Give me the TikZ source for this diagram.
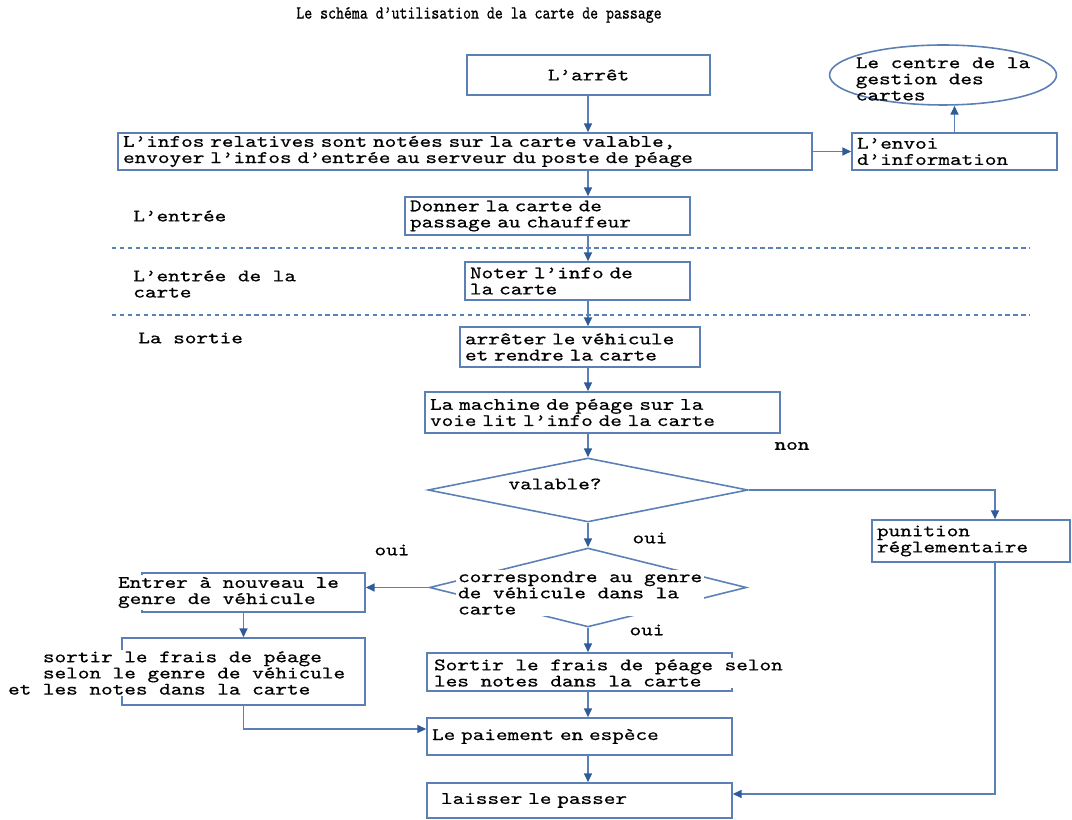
\documentclass[tikz,border=0pt]{standalone}
\usepackage{fontspec}
\usepackage{tikz}
\usetikzlibrary{arrows.meta,positioning,calc,shapes.geometric}
\newfontfamily\flowfont{lmmono10-regular}[Extension=.otf,FakeStretch=1.26,FakeBold=0.6]
\newfontfamily\headfont{lmmono10-regular}[Extension=.otf,FakeStretch=0.82,FakeBold=0.6]
\newcommand{\flowtext}{\flowfont\fontsize{10pt}{9.2pt}\selectfont}
\definecolor{flowblue}{HTML}{5B80B6}
\definecolor{tipblue}{HTML}{2E5C98}

\begin{document}
\begin{tikzpicture}[x=0.02cm,y=-0.02cm,
    stepbox/.style={draw=flowblue,line width=0.9pt,rectangle,inner xsep=0.1cm,inner ysep=0pt,align=left,font=\flowtext},
    txt/.style={inner sep=0pt,align=left,font=\flowtext},
    flow/.style={draw=flowblue,line width=0.9pt,-{Triangle[length=5pt,width=4.5pt,color=tipblue]}}]
    \useasboundingbox (0,0) rectangle (1072,820);
    \coordinate (axis) at (588,0);
    \node[font=\headfont\fontsize{10.5pt}{12pt}\selectfont] (title) at (479,15) {Le schéma d’utilisation de la carte de passage};
    \node[stepbox,align=center,text width=4.66cm,minimum height=0.8cm] (arret) at (588.5,75) {L’arrêt};
    \node[stepbox,text width=13.68cm,minimum height=0.74cm] (infos) at (465,151.5) {L’infos relatives sont notées sur la carte valable,\\envoyer l’infos d’entrée au serveur du poste de péage};
    \node[stepbox,text width=3.9cm,minimum height=0.74cm] (envoi) at (954.5,151.5) {L’envoi\\d’information};
    \node[ellipse,draw=flowblue,line width=0.9pt,minimum width=4.54cm,minimum height=1.2cm,inner sep=0pt] (centre) at (943,75) {};
    \node[txt] (centretxt) at (943,79) {Le centre de la\\gestion des\\cartes};
    \foreach \y in {248,315} { \draw[flowblue,line width=0.7pt,dash pattern=on 2.5pt off 2pt] (112,\y) -- (1030,\y); }
    \node[txt,anchor=west] (lblentree) at (133,216) {L’entrée};
    \node[txt,anchor=west] (lblcarte) at (133,284) {L’entrée de la\\carte};
    \node[txt,anchor=west] (lblsortie) at (138,338) {La sortie};
    \node[stepbox,text width=5.5cm,minimum height=0.76cm] (donner) at (547.5,216) {Donner la carte de\\passage au chauffeur};
    \node[stepbox,text width=4.3cm,minimum height=0.76cm] (noter) at (577.5,281) {Noter l’info de\\la carte};
    \node[stepbox,text width=4.6cm,minimum height=0.8cm] (arreter) at (580,347) {arrêter le véhicule\\et rendre la carte};
    \node[stepbox,text width=6.9cm,minimum height=0.82cm] (machine) at (602.5,412.5) {La machine de péage sur la\\voie lit l’info de la carte};
    \node[diamond,draw=flowblue,line width=0.9pt,minimum width=6.4cm,minimum height=1.28cm,inner sep=0pt] (valable) at (588,490) {};
    \node[txt] (valtxt) at (555,484) {valable?};
    \node[txt] (non) at (792,446) {non};
    \node[stepbox,text width=3.76cm,minimum height=0.84cm] (punition) at (971,541) {punition\\réglementaire};
    \node[txt] (ouiA) at (650,538) {oui};
    \node[txt] (ouiB) at (392,550) {oui};
    \node[diamond,draw=flowblue,line width=0.9pt,minimum width=6.34cm,minimum height=1.58cm,inner sep=0pt] (corr) at (588,587.5) {};
    \node[txt,anchor=west,fill=white,inner sep=1pt] (corrtxt) at (456,593) {correspondre au genre\\de véhicule dans la\\carte};
    \node[txt] (ouiC) at (647,630) {oui};
    \node[stepbox,minimum width=4.46cm,minimum height=0.78cm] (entrer) at (253.5,592.5) {};
    \node[txt,anchor=west,fill=white,inner sep=1pt] (entrertxt) at (116,592.5) {Entrer à nouveau le\\genre de véhicule};
    \node[stepbox,minimum width=4.86cm,minimum height=1.34cm] (sortirA) at (243.5,671.5) {};
    \node[txt,anchor=west,fill=white,inner sep=1pt] (sortirAtxt) at (6,673) {\phantom{xxx}sortir le frais de péage\\\phantom{xxx}selon le genre de véhicule\\et les notes dans la carte};
    \node[stepbox,minimum width=6.1cm,minimum height=0.76cm] (sortirB) at (579.5,672) {};
    \node[txt,anchor=west,fill=white,inner sep=1pt] (sortirBtxt) at (432,673) {Sortir le frais de péage selon\\les notes dans la carte};
    \node[stepbox,text width=5.9cm,minimum height=0.74cm] (paiement) at (579.5,736.5) {Le paiement en espèce\\[2pt]};
    \node[stepbox,text width=5.9cm,minimum height=0.7cm] (laisser) at (579.5,800.5) {\hspace*{0.18cm}laisser le passer};
    \foreach \a/\b in {arret/infos,infos/donner,donner/noter,noter/arreter,arreter/machine,machine/valable,valable/corr,corr/sortirB,sortirB/paiement,paiement/laisser} {
      \draw[flow] (axis |- \a.south) -- (axis |- \b.north);
    }
    \draw[flow] (infos.east) -- (envoi.west);
    \draw[flow] (envoi.north) -- (envoi.north |- centre.south);
    \draw[flow] (valable.east) -| ($(punition.north)+(24,0)$);
    \draw[flow] ($(punition.south)+(24,0)$) |- ($(laisser.east)+(0,-6.5)$);
    \draw[flow] (corr.west) -- (corr.west -| entrer.east);
    \draw[flow] (sortirA.north |- entrer.south) -- (sortirA.north);
    \draw[flow] (sortirA.south) |- ($(paiement.west)+(0,-7.5)$);
\end{tikzpicture}
\end{document}
